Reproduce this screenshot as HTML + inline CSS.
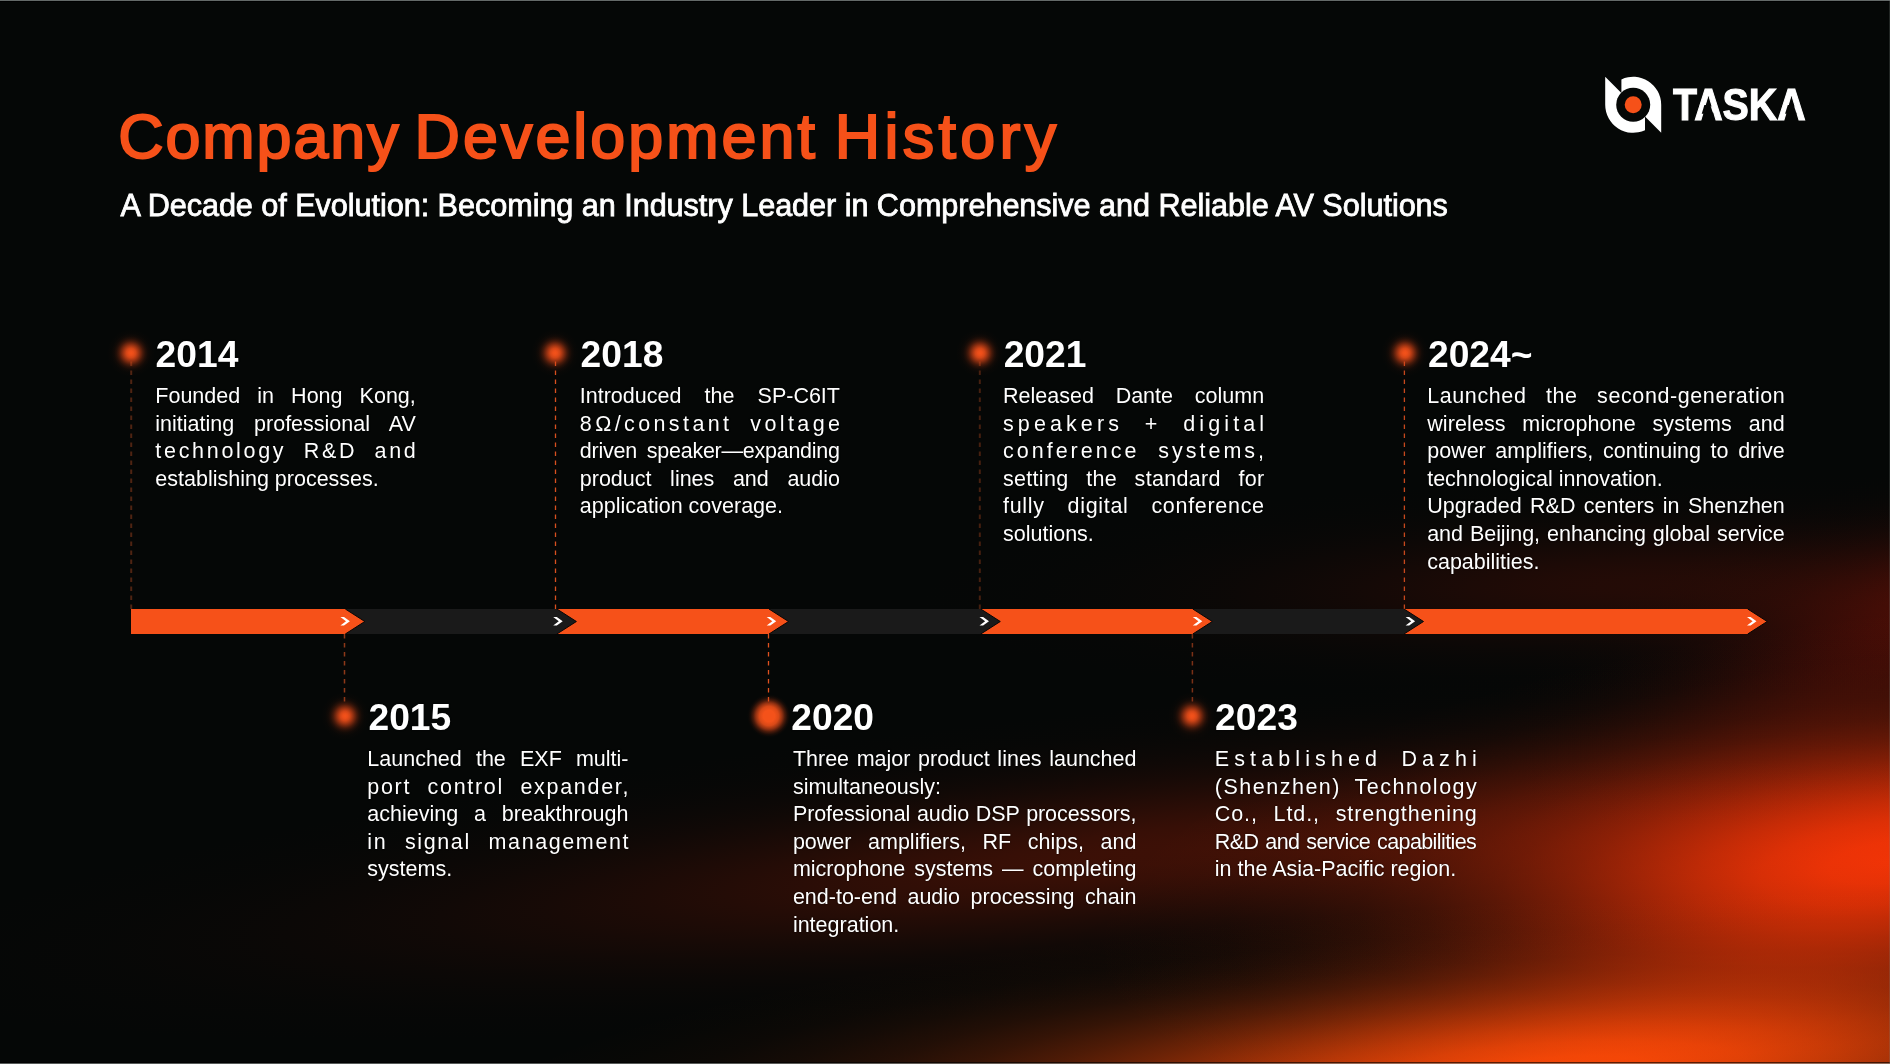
<!DOCTYPE html>
<html lang="en">
<head>
<meta charset="utf-8">
<title>Company Development History</title>
<style>
html,body{margin:0;padding:0;}
body{width:1890px;height:1064px;overflow:hidden;background:#050706;position:relative;font-family:"Liberation Sans",Arial,sans-serif;color:#fff;}
.bg{position:absolute;left:0;top:0;width:1890px;height:1064px;}
.frame-top{position:absolute;left:0;top:0;width:1890px;height:1px;background:#646968;}
.frame-top2{position:absolute;left:0;top:1px;width:1890px;height:1px;background:#000;}
.frame-bot{position:absolute;left:0;top:1063px;width:1890px;height:1px;background:rgba(128,133,131,.66);}
.frame-bot2{position:absolute;left:0;top:1062px;width:1890px;height:1px;background:rgba(0,0,0,.6);}
.frame-r{position:absolute;left:1889px;top:0;width:1px;height:1064px;background:rgba(125,130,128,.25);}
h1{position:absolute;margin:0;left:0;top:104.6px;width:1200px;height:70px;font-size:62.8px;font-weight:400;color:#f65119;-webkit-text-stroke:2.1px #f65119;white-space:nowrap;line-height:1;}
h1 span{position:absolute;top:0;}
h2{position:absolute;margin:0;left:120.5px;top:189.8px;font-size:30.6px;font-weight:400;color:#fff;-webkit-text-stroke:0.8px #fff;white-space:nowrap;line-height:1;letter-spacing:-0.04px;}
.year{position:absolute;font-weight:700;font-size:37.2px;line-height:1;color:#fff;white-space:nowrap;text-shadow:0 0 1.5px rgba(0,0,0,.85);}
.txt{position:absolute;font-size:21.5px;line-height:27.55px;color:#fff;text-shadow:0 0 1.5px rgba(0,0,0,.85);}
.txt div{white-space:nowrap;}
.txt .j{text-align:justify;text-align-last:justify;white-space:normal;}
.dot{position:absolute;width:48px;height:48px;margin:-24px 0 0 -24px;border-radius:50%;
 background:radial-gradient(circle closest-side,rgba(244,82,26,1) 0%,rgba(242,80,26,.97) 10%,rgba(238,78,25,.88) 20%,rgba(232,74,24,.7) 30%,rgba(225,70,22,.5) 40%,rgba(215,66,20,.3) 50%,rgba(200,60,18,.16) 60%,rgba(180,52,15,.07) 70%,rgba(150,40,10,.025) 82%,rgba(0,0,0,0) 100%);}
.dot.big{width:44px;height:44px;margin:-22px 0 0 -22px;background:radial-gradient(circle closest-side,rgba(244,82,26,1) 0%,rgba(244,82,26,1) 26%,rgba(240,80,25,.9) 44%,rgba(230,74,24,.62) 60%,rgba(215,66,20,.33) 72%,rgba(190,56,16,.12) 84%,rgba(150,40,10,.03) 93%,rgba(0,0,0,0) 100%);}
.tl{position:absolute;left:0;top:0;}
.txt .l{text-align:left;}
.glow{position:absolute;mix-blend-mode:screen;mix-blend-mode:plus-lighter;pointer-events:none;}
</style>
</head>
<body>
<div class="bg"></div>
<!-- GLOW -->
<div class="glow" style="left:1087.6px;top:614.1px;width:1613.2px;height:496.0px;transform:rotate(-6.77deg);background:radial-gradient(closest-side,rgba(231,44,0,1.000) 0.0%,rgba(231,44,0,0.969) 8.3%,rgba(231,44,0,0.881) 16.7%,rgba(231,44,0,0.752) 25.0%,rgba(231,44,0,0.602) 33.3%,rgba(231,44,0,0.452) 41.7%,rgba(231,44,0,0.317) 50.0%,rgba(231,44,0,0.207) 58.3%,rgba(231,44,0,0.126) 66.7%,rgba(231,44,0,0.069) 75.0%,rgba(231,44,0,0.033) 83.3%,rgba(231,44,0,0.012) 91.7%,rgba(231,44,0,0.000) 100.0%)"></div>
<div class="glow" style="left:462.0px;top:900.3px;width:2202.8px;height:341.5px;transform:rotate(-2.81deg);background:radial-gradient(closest-side,rgba(229,62,1,1.000) 0.0%,rgba(229,62,1,0.969) 8.3%,rgba(229,62,1,0.881) 16.7%,rgba(229,62,1,0.752) 25.0%,rgba(229,62,1,0.602) 33.3%,rgba(229,62,1,0.452) 41.7%,rgba(229,62,1,0.317) 50.0%,rgba(229,62,1,0.207) 58.3%,rgba(229,62,1,0.126) 66.7%,rgba(229,62,1,0.069) 75.0%,rgba(229,62,1,0.033) 83.3%,rgba(229,62,1,0.012) 91.7%,rgba(229,62,1,0.000) 100.0%)"></div>
<div class="glow" style="left:-122.2px;top:702.4px;width:2643.1px;height:293.8px;transform:rotate(-5.42deg);background:radial-gradient(closest-side,rgba(56,9,0,1.000) 0.0%,rgba(56,9,0,0.969) 8.3%,rgba(56,9,0,0.881) 16.7%,rgba(56,9,0,0.752) 25.0%,rgba(56,9,0,0.602) 33.3%,rgba(56,9,0,0.452) 41.7%,rgba(56,9,0,0.317) 50.0%,rgba(56,9,0,0.207) 58.3%,rgba(56,9,0,0.126) 66.7%,rgba(56,9,0,0.069) 75.0%,rgba(56,9,0,0.033) 83.3%,rgba(56,9,0,0.012) 91.7%,rgba(56,9,0,0.000) 100.0%)"></div>
<div class="glow" style="left:914.5px;top:474.7px;width:1486.5px;height:220.8px;transform:rotate(-1.25deg);background:radial-gradient(closest-side,rgba(31,4,0,1.000) 0.0%,rgba(31,4,0,0.969) 8.3%,rgba(31,4,0,0.881) 16.7%,rgba(31,4,0,0.752) 25.0%,rgba(31,4,0,0.602) 33.3%,rgba(31,4,0,0.452) 41.7%,rgba(31,4,0,0.317) 50.0%,rgba(31,4,0,0.207) 58.3%,rgba(31,4,0,0.126) 66.7%,rgba(31,4,0,0.069) 75.0%,rgba(31,4,0,0.033) 83.3%,rgba(31,4,0,0.012) 91.7%,rgba(31,4,0,0.000) 100.0%)"></div>
<div class="glow" style="left:1464.3px;top:462.9px;width:957.6px;height:312.5px;transform:rotate(-17.88deg);background:radial-gradient(closest-side,rgba(58,5,0,1.000) 0.0%,rgba(58,5,0,0.969) 8.3%,rgba(58,5,0,0.881) 16.7%,rgba(58,5,0,0.752) 25.0%,rgba(58,5,0,0.602) 33.3%,rgba(58,5,0,0.452) 41.7%,rgba(58,5,0,0.317) 50.0%,rgba(58,5,0,0.207) 58.3%,rgba(58,5,0,0.126) 66.7%,rgba(58,5,0,0.069) 75.0%,rgba(58,5,0,0.033) 83.3%,rgba(58,5,0,0.012) 91.7%,rgba(58,5,0,0.000) 100.0%)"></div>
<!-- /GLOW -->
<div class="frame-top"></div><div class="frame-top2"></div><div class="frame-bot"></div><div class="frame-bot2"></div><div class="frame-r"></div>

<!-- logo -->
<svg style="position:absolute;left:0;top:0" width="1890" height="1064" viewBox="0 0 1890 1064">
  <g transform="translate(1605.2,76.8)">
    <path d="M0 0 L0 28 A28 28 0 0 0 39.8 53.39 L39.8 39.8 L56 56 L56 28 A28 28 0 0 0 16.2 2.61 L16.2 16.2 Z" fill="#fff"/>
    <circle cx="28" cy="28" r="17" fill="#050706"/>
    <circle cx="28" cy="28" r="8.5" fill="#f65119"/>
  </g>
</svg>
<div id="taska" style="position:absolute;left:1673px;top:82px;font-weight:700;font-size:45px;line-height:1;color:#fff;-webkit-text-stroke:1.1px #fff;white-space:nowrap;transform-origin:0 0;transform:scaleX(0.875);">TASKA</div>

<svg style="position:absolute;left:0;top:0" width="1890" height="200"><polygon points="1704.4,104.9 1710.3,104.9 1713.2,113.7 1701.7,113.7" fill="#050706"/><polygon points="1787.8,104.9 1793.7,104.9 1796.6,113.7 1785.1,113.7" fill="#050706"/></svg>
<h1 id="title"><span id="w1" style="left:118.2px;letter-spacing:1.95px">Company</span> <span id="w2" style="left:414.6px;letter-spacing:3.04px">Development</span> <span id="w3" style="left:834.8px;letter-spacing:4.32px">History</span></h1>
<h2 id="sub">A Decade of Evolution: Becoming an Industry Leader in Comprehensive and Reliable AV Solutions</h2>

<!-- TIMELINE -->
<svg class="tl" width="1890" height="1064" viewBox="0 0 1890 1064">
<line x1="131.2" y1="609.0" x2="131.2" y2="358" stroke="#4f2412" stroke-width="2.0" stroke-dasharray="4.6 4.4"/>
<line x1="555.5" y1="609.0" x2="555.5" y2="358" stroke="#d9501f" stroke-width="1.3" stroke-dasharray="4.6 4.4"/>
<line x1="979.8" y1="609.0" x2="979.8" y2="358" stroke="#46200f" stroke-width="2.0" stroke-dasharray="4.6 4.4"/>
<line x1="1404.4" y1="609.0" x2="1404.4" y2="358" stroke="#c8481c" stroke-width="1.3" stroke-dasharray="4.6 4.4"/>
<line x1="344.5" y1="634.0" x2="344.5" y2="704" stroke="#8e3818" stroke-width="1.5" stroke-dasharray="4.6 4.4"/>
<line x1="768.5" y1="634.0" x2="768.5" y2="704" stroke="#e0521f" stroke-width="1.3" stroke-dasharray="4.6 4.4"/>
<line x1="1192.4" y1="634.0" x2="1192.4" y2="704" stroke="#7a3016" stroke-width="1.5" stroke-dasharray="4.6 4.4"/>
<polygon points="1404.0,609.0 1747.7,609.0 1767.2,621.5 1747.7,634.0 1404.0,634.0" fill="#f65119"/>
<polyline points="1747.7,609.0 1767.2,621.5 1747.7,634.0" fill="none" stroke="#060606" stroke-width="1"/>
<polygon points="1192.8,609.0 1404.0,609.0 1423.5,621.5 1404.0,634.0 1192.8,634.0" fill="#1a1a1a"/>
<polyline points="1404.0,609.0 1423.5,621.5 1404.0,634.0" fill="none" stroke="#060606" stroke-width="1"/>
<polygon points="980.8,609.0 1192.8,609.0 1212.3,621.5 1192.8,634.0 980.8,634.0" fill="#f65119"/>
<polyline points="1192.8,609.0 1212.3,621.5 1192.8,634.0" fill="none" stroke="#060606" stroke-width="1"/>
<polygon points="769.0,609.0 980.8,609.0 1000.3,621.5 980.8,634.0 769.0,634.0" fill="#1a1a1a"/>
<polyline points="980.8,609.0 1000.3,621.5 980.8,634.0" fill="none" stroke="#060606" stroke-width="1"/>
<polygon points="556.9,609.0 769.0,609.0 788.5,621.5 769.0,634.0 556.9,634.0" fill="#f65119"/>
<polyline points="769.0,609.0 788.5,621.5 769.0,634.0" fill="none" stroke="#060606" stroke-width="1"/>
<polygon points="345.3,609.0 556.9,609.0 576.4,621.5 556.9,634.0 345.3,634.0" fill="#1a1a1a"/>
<polyline points="556.9,609.0 576.4,621.5 556.9,634.0" fill="none" stroke="#060606" stroke-width="1"/>
<polygon points="131.0,609.0 345.3,609.0 364.8,621.5 345.3,634.0 131.0,634.0" fill="#f65119"/>
<polyline points="345.3,609.0 364.8,621.5 345.3,634.0" fill="none" stroke="#060606" stroke-width="1"/>
<polygon points="340.4,617.1 344.0,617.1 349.9,621.3 344.0,625.4 340.4,625.4 346.0,621.3" fill="#fff"/>
<polygon points="553.2,617.1 556.8,617.1 562.7,621.3 556.8,625.4 553.2,625.4 558.8,621.3" fill="#fff"/>
<polygon points="766.7,617.1 770.3,617.1 776.2,621.3 770.3,625.4 766.7,625.4 772.3,621.3" fill="#fff"/>
<polygon points="979.5,617.1 983.1,617.1 989.0,621.3 983.1,625.4 979.5,625.4 985.1,621.3" fill="#fff"/>
<polygon points="1192.8,617.1 1196.4,617.1 1202.3,621.3 1196.4,625.4 1192.8,625.4 1198.4,621.3" fill="#fff"/>
<polygon points="1405.6,617.1 1409.2,617.1 1415.1,621.3 1409.2,625.4 1405.6,625.4 1411.2,621.3" fill="#fff"/>
<polygon points="1747.0,617.1 1750.6,617.1 1756.5,621.3 1750.6,625.4 1747.0,625.4 1752.6,621.3" fill="#fff"/>
</svg>
<div class="dot" style="left:131.2px;top:353.3px"></div>
<div class="year" style="left:155.6px;top:336.0px">2014</div>
<div class="dot" style="left:555.0px;top:352.6px"></div>
<div class="year" style="left:580.6px;top:336.0px">2018</div>
<div class="dot" style="left:979.6px;top:352.9px"></div>
<div class="year" style="left:1003.7px;top:336.0px">2021</div>
<div class="dot" style="left:1404.5px;top:352.9px"></div>
<div class="year" style="left:1428.0px;top:336.0px">2024~</div>
<div class="dot" style="left:344.5px;top:715.8px"></div>
<div class="year" style="left:368.5px;top:698.6px">2015</div>
<div class="dot big" style="left:768.5px;top:715.8px"></div>
<div class="year" style="left:791.3px;top:698.6px">2020</div>
<div class="dot" style="left:1192.3px;top:715.8px"></div>
<div class="year" style="left:1215.1px;top:698.6px">2023</div>
<div class="txt" style="left:155.3px;top:383.3px;width:260.5px">
<div class="j">Founded in Hong Kong,</div>
<div class="j">initiating professional AV</div>
<div class="j" style="letter-spacing:2.70px;margin-right:-2.70px">technology R&amp;D and</div>
<div class="l">establishing processes.</div>
</div>
<div class="txt" style="left:579.8px;top:383.3px;width:260.2px">
<div class="j">Introduced the SP-C6IT</div>
<div class="j" style="letter-spacing:3.40px;margin-right:-3.40px">8Ω/constant voltage</div>
<div class="j" style="letter-spacing:-0.25px;margin-right:0.25px">driven speaker—expanding</div>
<div class="j">product lines and audio</div>
<div class="l">application coverage.</div>
</div>
<div class="txt" style="left:1003.0px;top:383.3px;width:261.1px">
<div class="j">Released Dante column</div>
<div class="j" style="letter-spacing:4.10px;margin-right:-4.10px">speakers + digital</div>
<div class="j" style="letter-spacing:3.00px;margin-right:-3.00px">conference systems,</div>
<div class="j" style="letter-spacing:0.30px;margin-right:-0.30px">setting the standard for</div>
<div class="j" style="letter-spacing:0.70px;margin-right:-0.70px">fully digital conference</div>
<div class="l">solutions.</div>
</div>
<div class="txt" style="left:1427.2px;top:383.3px;width:357.6px">
<div class="j" style="letter-spacing:0.60px;margin-right:-0.60px">Launched the second-generation</div>
<div class="j" style="letter-spacing:0.10px;margin-right:-0.10px">wireless microphone systems and</div>
<div class="j">power amplifiers, continuing to drive</div>
<div class="l">technological innovation.</div>
<div class="j">Upgraded R&amp;D centers in Shenzhen</div>
<div class="j" style="letter-spacing:-0.05px;margin-right:0.05px">and Beijing, enhancing global service</div>
<div class="l">capabilities.</div>
</div>
<div class="txt" style="left:367.3px;top:746.3px;width:261.2px">
<div class="j">Launched the EXF multi-</div>
<div class="j" style="letter-spacing:1.70px;margin-right:-1.70px">port control expander,</div>
<div class="j">achieving a breakthrough</div>
<div class="j" style="letter-spacing:1.60px;margin-right:-1.60px">in signal management</div>
<div class="l">systems.</div>
</div>
<div class="txt" style="left:792.9px;top:746.3px;width:343.6px">
<div class="j">Three major product lines launched</div>
<div class="l">simultaneously:</div>
<div class="j" style="letter-spacing:-0.08px;margin-right:0.08px">Professional audio DSP processors,</div>
<div class="j">power amplifiers, RF chips, and</div>
<div class="j">microphone systems — completing</div>
<div class="j">end-to-end audio processing chain</div>
<div class="l">integration.</div>
</div>
<div class="txt" style="left:1214.8px;top:746.3px;width:262.0px">
<div class="j" style="letter-spacing:5.10px;margin-right:-5.10px">Established Dazhi</div>
<div class="j" style="letter-spacing:1.50px;margin-right:-1.50px">(Shenzhen) Technology</div>
<div class="j" style="letter-spacing:0.90px;margin-right:-0.90px">Co., Ltd., strengthening</div>
<div class="j" style="letter-spacing:-0.60px;margin-right:0.60px">R&amp;D and service capabilities</div>
<div class="l">in the Asia-Pacific region.</div>
</div>
<!-- /TIMELINE -->
</body>
</html>
